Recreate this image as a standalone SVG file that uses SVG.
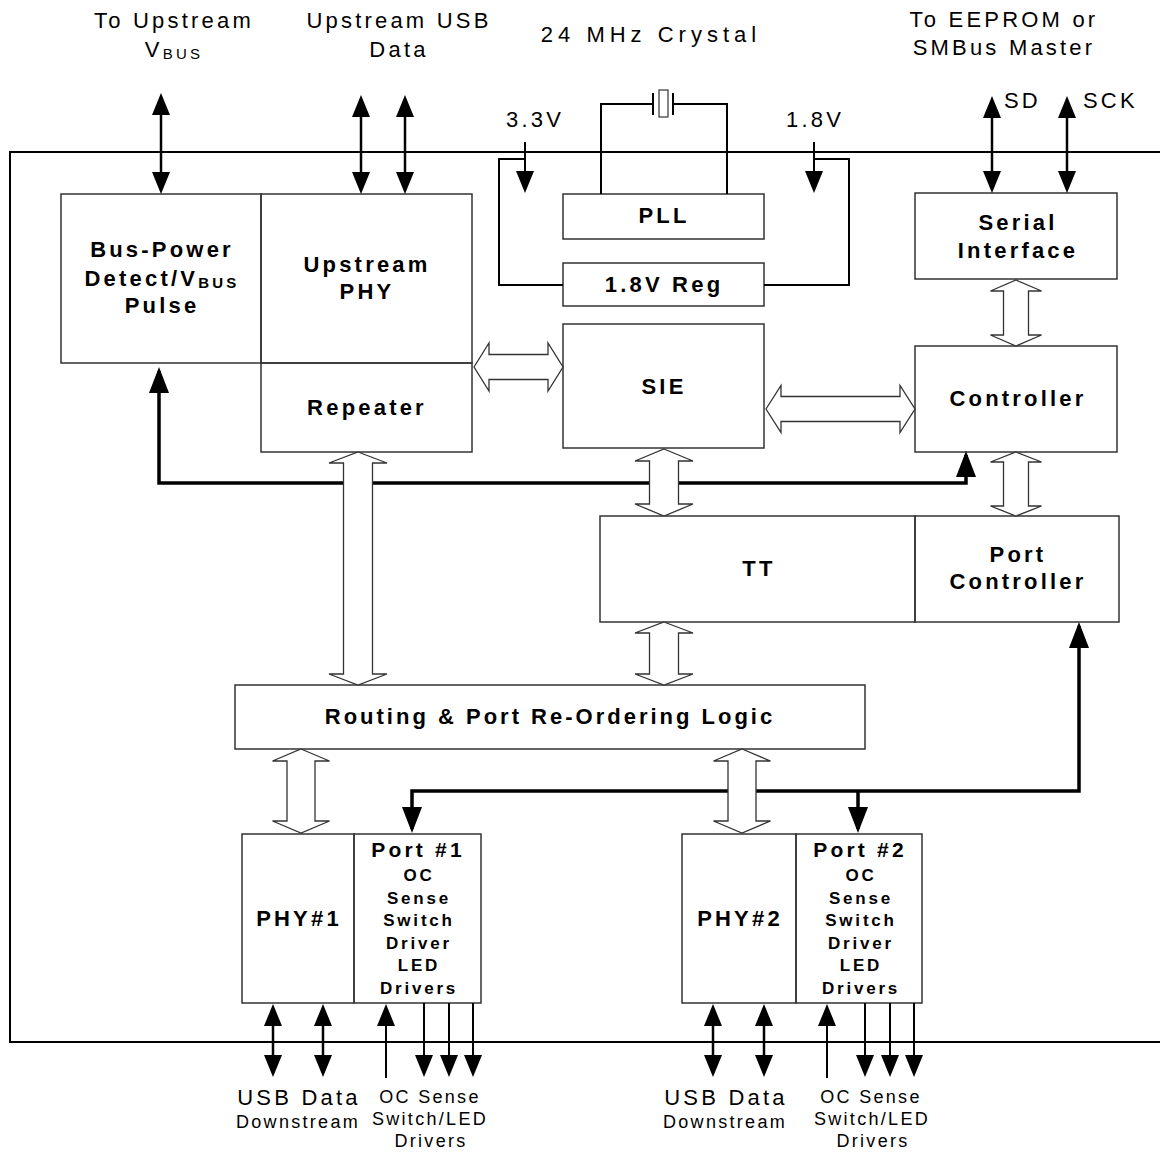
<svg xmlns="http://www.w3.org/2000/svg" width="1160" height="1152" viewBox="0 0 1160 1152">
<style>
.box{fill:none;stroke:#333;stroke-width:1.5}
.hol{fill:#fff;stroke:#333;stroke-width:1.3;stroke-linejoin:miter}
.sig{stroke:#000;stroke-width:2.5;fill:none}
.thin{stroke:#000;stroke-width:2;fill:none}
.thick{stroke:#000;stroke-width:3.5;fill:none}
text{font-family:"Liberation Sans",Arial,sans-serif;font-size:22px;letter-spacing:3.2px;text-anchor:middle;fill:#000}
.b{font-weight:bold}
.sm{font-size:18px;letter-spacing:2.3px}
.pt{font-size:17px;letter-spacing:2.8px;font-weight:bold}
.st{text-anchor:start}
.sub{font-size:15px}
</style>
<defs>
<marker id="ah" markerUnits="userSpaceOnUse" markerWidth="22" markerHeight="18" refX="18" refY="9" orient="auto-start-reverse" viewBox="0 0 22 18"><path d="M0,0L22,9L0,18Z" fill="#000"/></marker>
<marker id="ahT" markerUnits="userSpaceOnUse" markerWidth="26" markerHeight="20" refX="22" refY="10" orient="auto-start-reverse" viewBox="0 0 26 20"><path d="M0,0L26,10L0,20Z" fill="#000"/></marker>
</defs>
<rect width="1160" height="1152" fill="#fff"/>
<g id="chip"><rect x="10" y="152" width="1170" height="890" fill="none" stroke="#000" stroke-width="2"/></g>

<g id="bus-power"><rect class="box" x="61" y="194" width="200" height="169"/>
<text class="b" x="162" y="257">Bus-Power</text>
<text class="b" x="162" y="286">Detect/V<tspan class="sub" dy="2">BUS</tspan></text>
<text class="b" x="162" y="313">Pulse</text></g>
<g id="upstream-phy"><rect class="box" x="261" y="194" width="211" height="169"/>
<text class="b" x="367" y="272">Upstream</text><text class="b" x="367" y="299">PHY</text></g>
<g id="repeater"><rect class="box" x="261" y="363" width="211" height="89"/>
<text class="b" x="367" y="415">Repeater</text></g>
<g id="pll"><rect class="box" x="563" y="194" width="201" height="45"/>
<text class="b" x="664" y="223">PLL</text></g>
<g id="reg"><rect class="box" x="563" y="263" width="201" height="43"/>
<text class="b" x="664" y="292">1.8V Reg</text></g>
<g id="sie"><rect class="box" x="563" y="324" width="201" height="124"/>
<text class="b" x="664" y="394">SIE</text></g>
<g id="serial"><rect class="box" x="915" y="193" width="202" height="86"/>
<text class="b" x="1018" y="230">Serial</text><text class="b" x="1018" y="258">Interface</text></g>
<g id="controller"><rect class="box" x="915" y="346" width="202" height="106"/>
<text class="b" x="1018" y="406">Controller</text></g>
<g id="tt"><rect class="box" x="600" y="516" width="315" height="106"/>
<text class="b" x="759" y="576">TT</text></g>
<g id="port-controller"><rect class="box" x="915" y="516" width="204" height="106"/>
<text class="b" x="1018" y="562">Port</text><text class="b" x="1018" y="589">Controller</text></g>
<g id="routing"><rect class="box" x="235" y="685" width="630" height="64"/>
<text class="b" x="550" y="724" style="letter-spacing:3px">Routing &amp; Port Re-Ordering Logic</text></g>
<g id="phy1"><rect class="box" x="242" y="834" width="112" height="169"/>
<text class="b" x="299" y="926">PHY#1</text></g>
<g id="port1"><rect class="box" x="354" y="834" width="127" height="169"/>
<text class="b" x="418" y="857" style="font-size:21px">Port #1</text>
<text class="pt" x="419" y="881">OC</text><text class="pt" x="419" y="904">Sense</text><text class="pt" x="419" y="926">Switch</text>
<text class="pt" x="419" y="949">Driver</text><text class="pt" x="419" y="971">LED</text><text class="pt" x="419" y="994">Drivers</text></g>
<g id="phy2"><rect class="box" x="682" y="834" width="114" height="169"/>
<text class="b" x="740" y="926">PHY#2</text></g>
<g id="port2"><rect class="box" x="796" y="834" width="126" height="169"/>
<text class="b" x="860" y="857" style="font-size:21px">Port #2</text>
<text class="pt" x="861" y="881">OC</text><text class="pt" x="861" y="904">Sense</text><text class="pt" x="861" y="926">Switch</text>
<text class="pt" x="861" y="949">Driver</text><text class="pt" x="861" y="971">LED</text><text class="pt" x="861" y="994">Drivers</text></g>

<g id="connectors">
<polyline class="thick" points="159,371 159,483 966,483 966,455" marker-start="url(#ahT)" marker-end="url(#ahT)"/>
<polyline class="thick" points="412,829 412,791 1079,791 1079,626" marker-start="url(#ahT)" marker-end="url(#ahT)"/>
<line class="thick" x1="858" y1="791" x2="858" y2="829" marker-end="url(#ahT)"/>
<polygon class="hol" points="358,452 387,463 372.5,463 372.5,674 387,674 358,685 329,674 343.5,674 343.5,463 329,463"/>
<polygon class="hol" points="664,449 693,461 678.5,461 678.5,504 693,504 664,516 635,504 649.5,504 649.5,461 635,461"/>
<polygon class="hol" points="664,622 693,633 678.5,633 678.5,674 693,674 664,685 635,674 649.5,674 649.5,633 635,633"/>
<polygon class="hol" points="301,749 329.5,761 315,761 315,821 329.5,821 301,833 272.5,821 287,821 287,761 272.5,761"/>
<polygon class="hol" points="742,749 770.5,761 756,761 756,821 770.5,821 742,833 713.5,821 728,821 728,761 713.5,761"/>
<polygon class="hol" points="1016,280 1041.5,291 1028.5,291 1028.5,335 1041.5,335 1016,346 990.5,335 1003.5,335 1003.5,291 990.5,291"/>
<polygon class="hol" points="1016,452 1041.5,462 1028.5,462 1028.5,506 1041.5,506 1016,516 990.5,506 1003.5,506 1003.5,462 990.5,462"/>
<polygon class="hol" points="474,367 489,343 489,354.5 548,354.5 548,343 563,367 548,391 548,379.5 489,379.5 489,391"/>
<polygon class="hol" points="766,409 781,385.5 781,396.5 900,396.5 900,385.5 915,409 900,432.5 900,421.5 781,421.5 781,432.5"/>
<line class="sig" x1="161" y1="97" x2="161" y2="190" marker-start="url(#ah)" marker-end="url(#ah)"/>
<line class="sig" x1="361" y1="99" x2="361" y2="190" marker-start="url(#ah)" marker-end="url(#ah)"/>
<line class="sig" x1="405" y1="99" x2="405" y2="190" marker-start="url(#ah)" marker-end="url(#ah)"/>
<line class="sig" x1="992" y1="100" x2="992" y2="189" marker-start="url(#ah)" marker-end="url(#ah)"/>
<line class="sig" x1="1067" y1="100" x2="1067" y2="189" marker-start="url(#ah)" marker-end="url(#ah)"/>
<line class="thin" x1="525" y1="142" x2="525" y2="189" marker-end="url(#ah)"/>
<polyline class="thin" points="525,159 499,159 499,285 563,285"/>
<line class="thin" x1="814" y1="142" x2="814" y2="189" marker-end="url(#ah)"/>
<polyline class="thin" points="814,159 849,159 849,285 764,285"/>
<polyline class="thin" points="601,194 601,104 653,104"/>
<polyline class="thin" points="727,194 727,104 673,104"/>
<line class="thin" x1="653" y1="93" x2="653" y2="115"/>
<line class="thin" x1="673" y1="93" x2="673" y2="115"/>
<rect x="659" y="90" width="9" height="27" fill="none" stroke="#333" stroke-width="1.2"/>
<line class="sig" x1="273" y1="1008" x2="273" y2="1073" marker-start="url(#ah)" marker-end="url(#ah)"/>
<line class="sig" x1="323" y1="1008" x2="323" y2="1073" marker-start="url(#ah)" marker-end="url(#ah)"/>
<line class="sig" x1="713" y1="1008" x2="713" y2="1073" marker-start="url(#ah)" marker-end="url(#ah)"/>
<line class="sig" x1="764" y1="1008" x2="764" y2="1073" marker-start="url(#ah)" marker-end="url(#ah)"/>
<line class="thin" x1="386" y1="1078" x2="386" y2="1008" marker-end="url(#ah)"/>
<line class="thin" x1="827" y1="1078" x2="827" y2="1008" marker-end="url(#ah)"/>
<line class="thin" x1="424" y1="1003" x2="424" y2="1073" marker-end="url(#ah)"/>
<line class="thin" x1="449" y1="1003" x2="449" y2="1073" marker-end="url(#ah)"/>
<line class="thin" x1="473" y1="1003" x2="473" y2="1073" marker-end="url(#ah)"/>
<line class="thin" x1="865" y1="1003" x2="865" y2="1073" marker-end="url(#ah)"/>
<line class="thin" x1="890" y1="1003" x2="890" y2="1073" marker-end="url(#ah)"/>
<line class="thin" x1="914" y1="1003" x2="914" y2="1073" marker-end="url(#ah)"/>
</g>

<g id="labels">
<text x="174" y="28">To Upstream</text>
<text x="174" y="57">V<tspan class="sub" dy="2">BUS</tspan></text>
<text x="399" y="28">Upstream USB</text>
<text x="399" y="57">Data</text>
<text x="651" y="42" style="letter-spacing:5px">24 MHz Crystal</text>
<text x="1004" y="27">To EEPROM or</text>
<text x="1004" y="55">SMBus Master</text>
<text class="st" x="1004" y="108">SD</text>
<text class="st" x="1083" y="108">SCK</text>
<text x="535" y="127">3.3V</text>
<text x="815" y="127">1.8V</text>
<text x="299" y="1105">USB Data</text>
<text class="sm" x="298" y="1128">Downstream</text>
<text class="sm" x="430" y="1103">OC Sense</text>
<text class="sm" x="430" y="1125">Switch/LED</text>
<text class="sm" x="431" y="1147">Drivers</text>
<text x="726" y="1105">USB Data</text>
<text class="sm" x="725" y="1128">Downstream</text>
<text class="sm" x="871" y="1103">OC Sense</text>
<text class="sm" x="872" y="1125">Switch/LED</text>
<text class="sm" x="873" y="1147">Drivers</text>
</g>
</svg>
